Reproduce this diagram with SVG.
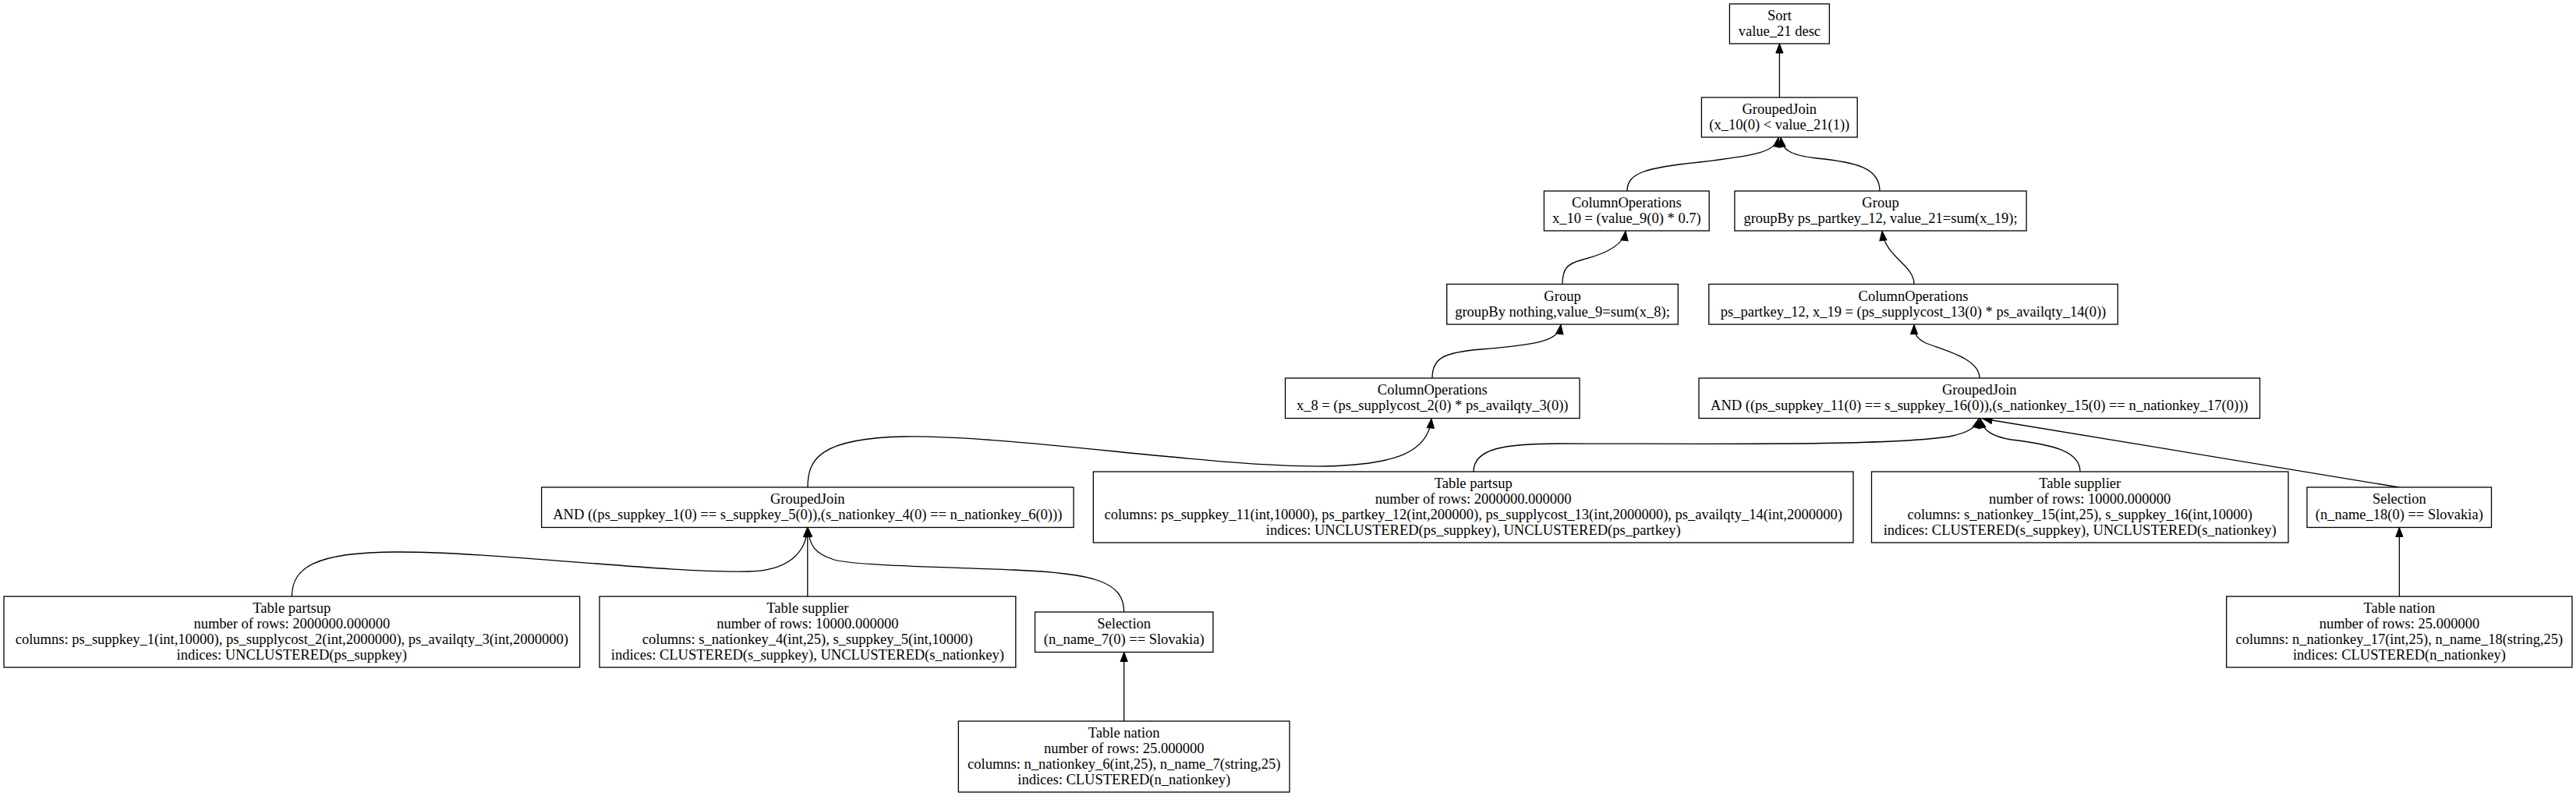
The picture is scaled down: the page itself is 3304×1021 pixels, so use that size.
<svg xmlns="http://www.w3.org/2000/svg" width="3304" height="1021" viewBox="0 0 3304 1021">
<style>
.n rect{fill:#fff;stroke:#000;stroke-width:1.3}
.n text{font-family:"Liberation Serif","Times New Roman",serif;font-size:18.5px;fill:#000;text-anchor:middle}
.e path{fill:none;stroke:#000;stroke-width:1.3;marker-end:url(#ah)}
</style>
<defs>
<marker id="ah" markerUnits="userSpaceOnUse" markerWidth="14" markerHeight="12" refX="12" refY="0" viewBox="0 -6 14 12" orient="auto" overflow="visible">
<path d="M0,-4.6 L12,0 L0,4.6 z" fill="#000" stroke="#000" stroke-width="1"/>
</marker>
</defs>
<rect x="0" y="0" width="3304" height="1021" fill="#fff"/>
<g class="e" id="edges">
<path d="M2282.4,125 L2282.4,56"/>
<path d="M2087,245 C2087,222 2110,215 2180,208 C2250,200 2278,195 2281,176.5"/>
<path d="M2411,245 C2411,215 2380,208 2330,203 C2295,199 2286,192 2284,176.5"/>
<path d="M2004,364 C2004,345 2010,338 2030,333 C2065,324 2083,312 2085,296.5"/>
<path d="M1837,485 C1837,460 1850,452 1900,448 C1970,442 1999,438 2002,416.5"/>
<path d="M2455,364 C2455,340 2418,330 2414,296.5"/>
<path d="M2539,485 C2539,460 2495,450 2470,440 C2458,434 2455,428 2455,416.5"/>
<path d="M1036,625 C1036,590 1050,562 1160,560 C1300,558 1560,600 1700,598 C1790,596 1832,580 1836,537"/>
<path d="M374.4,765 C374.4,730 400,708 510,708 C640,708 850,735 960,733 C1010,732 1034,710 1035.8,676.5"/>
<path d="M1035.8,765 L1035.8,676.5"/>
<path d="M1441.7,785 C1441.7,745 1400,735 1300,731 C1200,727 1094,725 1070,718 C1045,710 1038,700 1036,676.5"/>
<path d="M1441.7,925 L1441.7,836.5"/>
<path d="M1890,605 C1890,575 1930,569 2000,569 C2200,569 2420,572 2500,560 C2525,555 2535,548 2538,537"/>
<path d="M2668,605 C2668,578 2630,570 2580,564 C2555,560 2543,552 2540,537"/>
<path d="M3077,625 L2543,537"/>
<path d="M3077.4,765 L3077.4,676.5"/>
</g>
<g class="n" id="sort"><rect x="2218.4" y="5" width="128" height="51"/><text x="2282.4" y="26">Sort</text><text x="2282.4" y="46">value_21 desc</text></g>
<g class="n" id="groupedjoin_top"><rect x="2182.4" y="125" width="199.8" height="51"/><text x="2282.3" y="146">GroupedJoin</text><text x="2282.3" y="166">(x_10(0) &lt; value_21(1))</text></g>
<g class="n" id="colops_x10"><rect x="1980.4" y="245" width="211.8" height="51"/><text x="2086.3" y="266">ColumnOperations</text><text x="2086.3" y="286">x_10 = (value_9(0) * 0.7)</text></g>
<g class="n" id="group_partkey"><rect x="2224.9" y="245" width="374.2" height="51"/><text x="2412" y="266">Group</text><text x="2412" y="286">groupBy ps_partkey_12, value_21=sum(x_19);</text></g>
<g class="n" id="group_nothing"><rect x="1855.7" y="364.5" width="296.6" height="51.5"/><text x="2004" y="385.5">Group</text><text x="2004" y="405.5">groupBy nothing,value_9=sum(x_8);</text></g>
<g class="n" id="colops_x19"><rect x="2191.8" y="364.5" width="524.5" height="51.5"/><text x="2454" y="385.5">ColumnOperations</text><text x="2454" y="405.5">ps_partkey_12, x_19 = (ps_supplycost_13(0) * ps_availqty_14(0))</text></g>
<g class="n" id="colops_x8"><rect x="1648.5" y="485" width="377.5" height="51.5"/><text x="1837.2" y="506">ColumnOperations</text><text x="1837.2" y="526">x_8 = (ps_supplycost_2(0) * ps_availqty_3(0))</text></g>
<g class="n" id="groupedjoin_right"><rect x="2179" y="485" width="719.5" height="51.5"/><text x="2538.8" y="506">GroupedJoin</text><text x="2538.8" y="526">AND ((ps_suppkey_11(0) == s_suppkey_16(0)),(s_nationkey_15(0) == n_nationkey_17(0)))</text></g>
<g class="n" id="groupedjoin_left"><rect x="694.6" y="625" width="682.4" height="51.5"/><text x="1035.8" y="646">GroupedJoin</text><text x="1035.8" y="666">AND ((ps_suppkey_1(0) == s_suppkey_5(0)),(s_nationkey_4(0) == n_nationkey_6(0)))</text></g>
<g class="n" id="partsup_right"><rect x="1402.3" y="605" width="974.7" height="91"/><text x="1889.7" y="626">Table partsup</text><text x="1889.7" y="646">number of rows: 2000000.000000</text><text x="1889.7" y="666">columns: ps_suppkey_11(int,10000), ps_partkey_12(int,200000), ps_supplycost_13(int,2000000), ps_availqty_14(int,2000000)</text><text x="1889.7" y="686">indices: UNCLUSTERED(ps_suppkey), UNCLUSTERED(ps_partkey)</text></g>
<g class="n" id="supplier_right"><rect x="2400.5" y="605" width="534.5" height="91"/><text x="2667.7" y="626">Table supplier</text><text x="2667.7" y="646">number of rows: 10000.000000</text><text x="2667.7" y="666">columns: s_nationkey_15(int,25), s_suppkey_16(int,10000)</text><text x="2667.7" y="686">indices: CLUSTERED(s_suppkey), UNCLUSTERED(s_nationkey)</text></g>
<g class="n" id="selection_right"><rect x="2959" y="625" width="236.5" height="51.5"/><text x="3077.3" y="646">Selection</text><text x="3077.3" y="666">(n_name_18(0) == Slovakia)</text></g>
<g class="n" id="nation_right"><rect x="2855.7" y="765" width="443.3" height="91"/><text x="3077.4" y="786">Table nation</text><text x="3077.4" y="806">number of rows: 25.000000</text><text x="3077.4" y="826">columns: n_nationkey_17(int,25), n_name_18(string,25)</text><text x="3077.4" y="846">indices: CLUSTERED(n_nationkey)</text></g>
<g class="n" id="partsup_left"><rect x="5" y="765" width="738.6" height="91"/><text x="374.3" y="786">Table partsup</text><text x="374.3" y="806">number of rows: 2000000.000000</text><text x="374.3" y="826">columns: ps_suppkey_1(int,10000), ps_supplycost_2(int,2000000), ps_availqty_3(int,2000000)</text><text x="374.3" y="846">indices: UNCLUSTERED(ps_suppkey)</text></g>
<g class="n" id="supplier_left"><rect x="768.9" y="765" width="533.9" height="91"/><text x="1035.8" y="786">Table supplier</text><text x="1035.8" y="806">number of rows: 10000.000000</text><text x="1035.8" y="826">columns: s_nationkey_4(int,25), s_suppkey_5(int,10000)</text><text x="1035.8" y="846">indices: CLUSTERED(s_suppkey), UNCLUSTERED(s_nationkey)</text></g>
<g class="n" id="selection_left"><rect x="1327.5" y="785" width="228.4" height="51.5"/><text x="1441.7" y="806">Selection</text><text x="1441.7" y="826">(n_name_7(0) == Slovakia)</text></g>
<g class="n" id="nation_left"><rect x="1229.3" y="925" width="424.7" height="91"/><text x="1441.7" y="946">Table nation</text><text x="1441.7" y="966">number of rows: 25.000000</text><text x="1441.7" y="986">columns: n_nationkey_6(int,25), n_name_7(string,25)</text><text x="1441.7" y="1006">indices: CLUSTERED(n_nationkey)</text></g>
</svg>
